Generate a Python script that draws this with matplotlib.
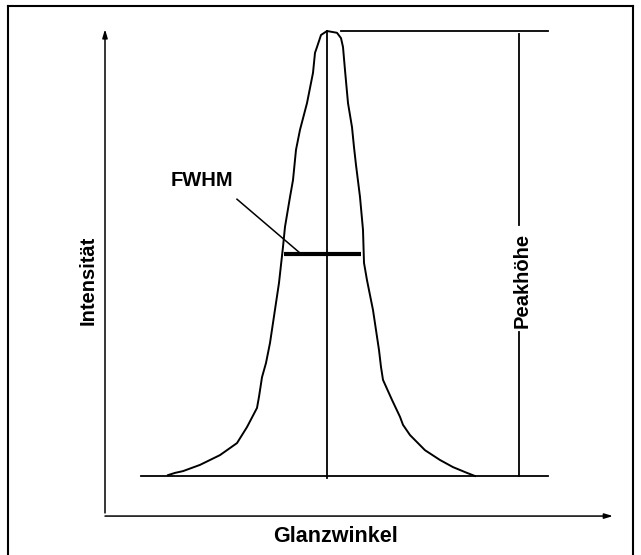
import matplotlib
matplotlib.use("Agg")
import matplotlib.pyplot as plt
from matplotlib.lines import Line2D

plt.rcParams['font.family'] = ['Liberation Sans', 'DejaVu Sans']

# Peakprofil (Glanzwinkel in willkürlichen Einheiten, Intensität in % der Peakhöhe)
winkel_links = [16.8, 17.5, 18.3, 20.0, 22.0, 23.7, 24.7, 25.7, 25.9, 26.2, 26.6, 27.0, 27.3,
                27.9, 28.3, 28.5, 29.0, 29.3, 29.6, 30.0, 30.7, 31.3, 31.5, 31.7, 32.1, 32.7]
int_links = [0.2, 0.7, 1.1, 2.5, 4.7, 7.4, 11.0, 15.3, 17.8, 22.2, 25.4, 29.9, 34.4,
             43.4, 51.5, 56.0, 62.7, 66.5, 73.3, 77.8, 83.8, 90.6, 95.1, 96.4, 99.1, 100.0]
winkel_rechts = [33.7, 34.1, 34.3, 34.5, 34.8, 35.2, 35.4, 35.6, 36.0, 36.3, 36.4, 36.7, 37.3,
                 37.9, 38.1, 38.3, 39.2, 40.0, 40.3, 41.0, 42.5, 44.0, 45.3, 46.7, 47.5]
int_rechts = [99.6, 98.4, 96.4, 91.2, 83.8, 78.4, 73.9, 69.9, 62.7, 55.3, 47.9, 44.0, 37.3,
              28.3, 24.5, 21.6, 17.1, 13.3, 11.5, 9.2, 5.8, 3.6, 2.0, 0.7, 0.0]

peak_winkel = 32.7
peak_hoehe = 100.0
fwhm_links, fwhm_rechts = 28.4, 36.1
basis_links, basis_rechts = 14.1, 54.8
hoehe_x = 51.9

winkel = winkel_links + winkel_rechts
intensitaet = int_links + int_rechts

fig = plt.figure(figsize=(6.41, 5.55), dpi=100)
ax = fig.add_axes([0, 0, 1, 1])
ax.set_xlim(0, 64.1)
ax.set_ylim(-17.75, 106.97)
ax.axis('off')

lw = 1.3
# Kurve
ax.plot(winkel, intensitaet, color='black', lw=1.4, solid_joinstyle='round')
# Grundlinie
ax.plot([basis_links, basis_rechts], [0, 0], color='black', lw=lw)
# Mittellinie durch den Peak
ax.plot([peak_winkel, peak_winkel], [-0.5, peak_hoehe], color='black', lw=lw)
# obere Linie für die Peakhöhe
ax.plot([34.1, basis_rechts], [peak_hoehe, peak_hoehe], color='black', lw=lw)
# Peakhöhe senkrecht, mit Lücke für die Beschriftung
ax.plot([hoehe_x, hoehe_x], [99.3, 56.4], color='black', lw=lw)
ax.plot([hoehe_x, hoehe_x], [32.4, 0], color='black', lw=lw)
ax.text(hoehe_x + 0.3, 44.0, "Peakhöhe", rotation=90, ha='center', va='center',
        fontsize=14.5, fontweight='bold')

# FWHM
ax.plot([fwhm_links, fwhm_rechts], [peak_hoehe / 2, peak_hoehe / 2], color='black', lw=3,
        solid_capstyle='butt')
ax.plot([23.7, 29.9], [62.2, 50.3], color='black', lw=1.1)
ax.text(20.2, 66.3, "FWHM", ha='center', va='center', fontsize=14.5, fontweight='bold')

# Achsenpfeile
pfeil = dict(arrowstyle='-|>,head_length=0.5,head_width=0.15', color='black', lw=1.1,
             shrinkA=0, shrinkB=0)
ax.annotate("", xy=(10.5, 100.4), xytext=(10.5, -8.3), arrowprops=pfeil)
ax.annotate("", xy=(61.3, -9.0), xytext=(10.5, -9.0), arrowprops=pfeil)
ax.text(8.8, 44.0, "Intensität", rotation=90, ha='center', va='center',
        fontsize=14.5, fontweight='bold')
ax.text(33.55, -13.7, "Glanzwinkel", ha='center', va='center', fontsize=15.5,
        fontweight='bold')

# Rahmen
rahmen = dict(color='black', lw=1.5, transform=fig.transFigure)
fig.add_artist(Line2D([8 / 641, 8 / 641], [0, 1 - 5.5 / 555], **rahmen))
fig.add_artist(Line2D([8 / 641, 633 / 641], [1 - 5.5 / 555, 1 - 5.5 / 555], **rahmen))
fig.add_artist(Line2D([633 / 641, 633 / 641], [0, 1 - 5.5 / 555], **rahmen))

fig.savefig("out.png", dpi=100)
